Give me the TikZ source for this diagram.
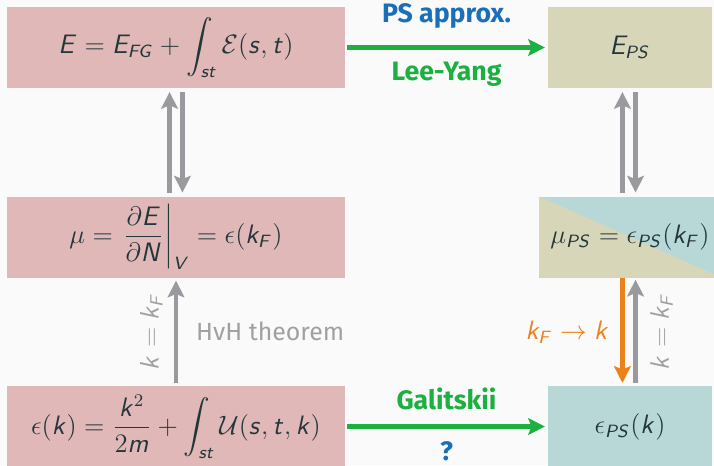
\documentclass[tikz,border=0pt,12pt]{standalone}
\usepackage{amsmath}
\usepackage{fontspec}
\setmainfont{Fira Sans}
\setsansfont{Fira Sans}
\usepackage{tikz}
\usetikzlibrary{arrows.meta}

% sans serif math letters, as on the slides
\DeclareSymbolFont{sfletters}{OT1}{cmss}{m}{sl}
\DeclareSymbolFont{sfupright}{OT1}{cmss}{m}{n}
\DeclareMathSymbol{E}{\mathalpha}{sfletters}{`E}
\DeclareMathSymbol{F}{\mathalpha}{sfletters}{`F}
\DeclareMathSymbol{G}{\mathalpha}{sfletters}{`G}
\DeclareMathSymbol{N}{\mathalpha}{sfletters}{`N}
\DeclareMathSymbol{V}{\mathalpha}{sfletters}{`V}
\DeclareMathSymbol{P}{\mathalpha}{sfletters}{`P}
\DeclareMathSymbol{S}{\mathalpha}{sfletters}{`S}
\DeclareMathSymbol{s}{\mathalpha}{sfletters}{`s}
\DeclareMathSymbol{t}{\mathalpha}{sfletters}{`t}
\DeclareMathSymbol{k}{\mathalpha}{sfletters}{`k}
\DeclareMathSymbol{m}{\mathalpha}{sfletters}{`m}
\DeclareMathSymbol{2}{\mathalpha}{sfupright}{`2}

\definecolor{pagebg}{HTML}{FAFAFA}
\definecolor{textdark}{HTML}{23373B}
\definecolor{boxred}{HTML}{E0B8B8}
\definecolor{boxkhaki}{HTML}{D8D6B8}
\definecolor{boxteal}{HTML}{B8D8D8}
\definecolor{arrgray}{HTML}{9A9A9E}
\definecolor{lblgray}{HTML}{A0A0A0}
\definecolor{mgreen}{HTML}{1BB040}
\definecolor{mblue}{HTML}{1A6FB9}
\definecolor{morange}{HTML}{EB811B}

\begin{document}
\begin{tikzpicture}[x=0.45pt, y=-0.45pt,
	box/.style={rectangle, inner sep=0pt, outer sep=0pt, minimum height=36.45pt, text=textdark},
	fullbox/.style={box, fill=boxred, minimum width=152.1pt},
	psbox/.style={box, minimum width=73.8pt},
	arr/.style={line width=2.1pt, -{Stealth[length=7.5pt, width=7.5pt, inset=1.5pt]}},
	lbl/.style={inner sep=0pt, font=\bfseries}]
	\fill[pagebg] (0,0) rectangle (714,465);
	\useasboundingbox (0,0) rectangle (714,465);
	% left column
	\node[fullbox] (Efull) at (176,47.5) {$\displaystyle E = E_{FG} + \int_{st} \mathcal{E}(s,t)$};
	\node[fullbox] (mufull) at (176,237) {$\displaystyle \mu = \left.\frac{\partial E}{\partial N}\right|_{V} = \epsilon(k_F)$};
	\node[fullbox] (epsfull) at (176,426.5) {$\displaystyle \epsilon(k) = \frac{k^2}{2m} + \int_{st} \mathcal{U}(s,t,k)$};
	% right column
	\node[psbox, fill=boxkhaki] (Eps) at (630,47.5) {$E_{PS}$};
	\node[psbox, fill=boxteal, minimum width=81.9pt,
		path picture={\fill[boxkhaki] (path picture bounding box.north west) -- (path picture bounding box.south east) -- (path picture bounding box.south west) -- cycle;}]
		(mups) at (630,237) {$\mu_{PS} = \epsilon_{PS}(k_F)$};
	\node[psbox, fill=boxteal] (epsps) at (630,426.5) {$\epsilon_{PS}(k)$};
	% horizontal arrows
	\draw[arr, mgreen, shorten <=1pt, shorten >=1.4pt] (Efull) -- (Eps)
		node[lbl, midway, yshift=14pt, text=mblue] (psapprox) {PS approx.}
		node[lbl, midway, yshift=-12.2pt, text=mgreen] (leeyang) {Lee-Yang};
	\draw[arr, mgreen, shorten <=1pt, shorten >=1.4pt] (epsfull) -- (epsps)
		node[lbl, midway, yshift=12.2pt, text=mgreen] (galitskii) {Galitskii}
		node[lbl, midway, yshift=-11.3pt, text=mblue] (unknown) {?};
	% vertical arrows, left
	\draw[arr, arrgray, shorten <=1.8pt, shorten >=1.8pt] ([xshift=-2.9pt]mufull.north) -- ([xshift=-2.9pt]Efull.south);
	\draw[arr, arrgray, shorten <=1.8pt, shorten >=1.8pt] ([xshift=2.9pt]Efull.south) -- ([xshift=2.9pt]mufull.north);
	\draw[arr, arrgray, shorten <=1.4pt, shorten >=1.4pt] (epsfull.north) -- (mufull.south)
		node[midway, inner sep=0pt, anchor=west, xshift=8pt, text=lblgray, font=\fontsize{11.2}{13}\selectfont] (hvh) {HvH theorem}
		node[midway, inner sep=0pt, xshift=-5pt, rotate=90, anchor=south, text=lblgray] (kkfleft) {$k = k_F$};
	% vertical arrows, right
	\draw[arr, arrgray, shorten <=1.8pt, shorten >=1.8pt] ([xshift=-3.4pt]mups.north) -- ([xshift=-3.4pt]Eps.south);
	\draw[arr, arrgray, shorten <=1.8pt, shorten >=1.8pt] ([xshift=2.5pt]Eps.south) -- ([xshift=2.5pt]mups.north);
	\draw[arr, morange, shorten >=1.4pt] ([xshift=-3.4pt]mups.south) -- ([xshift=-3.4pt]epsps.north)
		node[midway, inner sep=0pt, anchor=east, xshift=-5pt, text=morange] (kftok) {$k_F \to k$};
	\draw[arr, arrgray, shorten <=1.4pt, shorten >=1pt] ([xshift=2.5pt]epsps.north) -- ([xshift=2.5pt]mups.south)
		node[midway, inner sep=0pt, xshift=5.6pt, rotate=90, anchor=north, text=lblgray] (kkfright) {$k = k_F$};
\end{tikzpicture}
\end{document}
